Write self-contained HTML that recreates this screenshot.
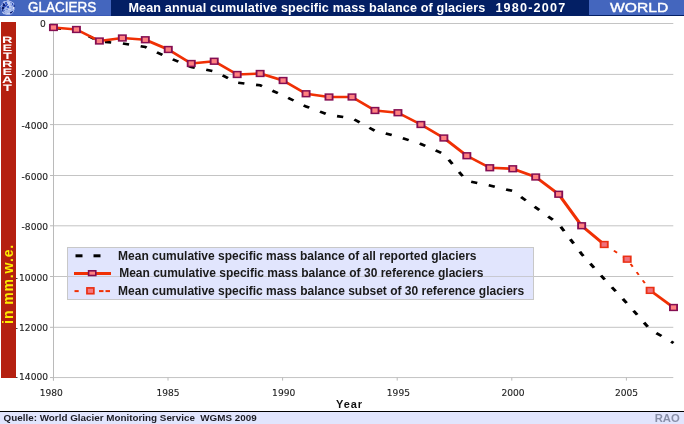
<!DOCTYPE html>
<html lang="en"><head><meta charset="utf-8"><title>Mean annual cumulative specific mass balance of glaciers 1980-2007</title>
<style>
html,body{margin:0;padding:0;background:#fff;}
body{width:684px;height:424px;position:relative;overflow:hidden;font-family:"Liberation Sans",Arial,sans-serif;}
#hdr{position:absolute;left:0;top:0;width:684px;height:15.6px;background:#031f64;}
#hl{position:absolute;left:0;top:0;width:110.8px;height:15.6px;background:linear-gradient(#4466be 0,#4466be 14.8px,#3a5ab6 14.8px);}
#hr{position:absolute;left:589.3px;top:0;width:95px;height:14.7px;background:#4466be;}
#hdr span{position:absolute;color:#fff;font-weight:bold;white-space:nowrap;line-height:15px;top:0.4px;transform-origin:0 50%;}
#t1{left:27.9px;font-size:14px;font-weight:normal !important;-webkit-text-stroke:0.42px #fff;transform:scaleX(0.962);}
#t2{left:128.4px;top:1.4px !important;font-size:12.6px;letter-spacing:0.15px;}
#t2b{left:495.4px;top:1.4px !important;font-size:12.6px;letter-spacing:1.2px;}
#t3{left:610.3px;top:1.3px !important;font-size:12.5px;font-weight:normal !important;-webkit-text-stroke:0.4px #fff;transform:scaleX(1.25);}
#bar{position:absolute;left:1px;top:22px;width:15px;height:355.8px;background:#b52010;}
#mm{position:absolute;left:0;top:0;color:#fdee00;font-weight:bold;font-size:14px;white-space:nowrap;letter-spacing:0.9px;transform-origin:0 0;transform:translate(1.2px,323.9px) rotate(-90deg);line-height:14px;}
#ftl{position:absolute;left:0;top:411px;width:684px;height:1px;background:#000;}
#ft{position:absolute;left:0;top:412px;width:684px;height:12px;background:#e1e5fd;}
#q{position:absolute;left:3.6px;top:411.9px;font-size:9.85px;font-weight:bold;color:#1c1c24;white-space:pre;line-height:12px;}
#rao{position:absolute;right:4.2px;top:412px;font-size:11.3px;font-weight:bold;color:#888fa8;line-height:12px;}
#chart{position:absolute;left:0;top:0;}
.ax{font-family:"DejaVu Sans","Liberation Sans",sans-serif;font-size:9.1px;fill:#1c1c1c;stroke:#1c1c1c;stroke-width:0.12px;}
.lg{font-family:"Liberation Sans",Arial,sans-serif;font-size:12px;font-weight:bold;fill:#1a1a1a;}
.yr{font-family:"Liberation Sans",Arial,sans-serif;font-size:11px;font-weight:bold;fill:#111;letter-spacing:0.9px;}
</style></head><body>
<svg id="chart" width="684" height="424" viewBox="0 0 684 424">
<line x1="53" x2="673.3" y1="23.50" y2="23.50" stroke="#c4c4c4" stroke-width="1"/>
<line x1="53" x2="673.3" y1="74.40" y2="74.40" stroke="#c4c4c4" stroke-width="1"/>
<line x1="53" x2="673.3" y1="124.60" y2="124.60" stroke="#c4c4c4" stroke-width="1"/>
<line x1="53" x2="673.3" y1="175.50" y2="175.50" stroke="#c4c4c4" stroke-width="1"/>
<line x1="53" x2="673.3" y1="225.80" y2="225.80" stroke="#c4c4c4" stroke-width="1"/>
<line x1="53" x2="673.3" y1="276.50" y2="276.50" stroke="#c4c4c4" stroke-width="1"/>
<line x1="53" x2="673.3" y1="327.30" y2="327.30" stroke="#c4c4c4" stroke-width="1"/>
<line x1="53" x2="673.3" y1="377.55" y2="377.55" stroke="#c4c4c4" stroke-width="1"/>
<line x1="53.5" x2="53.5" y1="23" y2="380.6" stroke="#bababa" stroke-width="1"/>
<line x1="53.40" x2="53.40" y1="377.55" y2="380.6" stroke="#bababa" stroke-width="1"/>
<line x1="168.00" x2="168.00" y1="377.55" y2="380.6" stroke="#bababa" stroke-width="1"/>
<line x1="282.60" x2="282.60" y1="377.55" y2="380.6" stroke="#bababa" stroke-width="1"/>
<line x1="397.20" x2="397.20" y1="377.55" y2="380.6" stroke="#bababa" stroke-width="1"/>
<line x1="511.80" x2="511.80" y1="377.55" y2="380.6" stroke="#bababa" stroke-width="1"/>
<line x1="626.40" x2="626.40" y1="377.55" y2="380.6" stroke="#bababa" stroke-width="1"/>
<line x1="50" x2="53.5" y1="23.50" y2="23.50" stroke="#bababa" stroke-width="1"/>
<line x1="50" x2="53.5" y1="74.40" y2="74.40" stroke="#bababa" stroke-width="1"/>
<line x1="50" x2="53.5" y1="124.60" y2="124.60" stroke="#bababa" stroke-width="1"/>
<line x1="50" x2="53.5" y1="175.50" y2="175.50" stroke="#bababa" stroke-width="1"/>
<line x1="50" x2="53.5" y1="225.80" y2="225.80" stroke="#bababa" stroke-width="1"/>
<line x1="50" x2="53.5" y1="276.50" y2="276.50" stroke="#bababa" stroke-width="1"/>
<line x1="50" x2="53.5" y1="327.30" y2="327.30" stroke="#bababa" stroke-width="1"/>
<line x1="50" x2="53.5" y1="377.55" y2="377.55" stroke="#bababa" stroke-width="1"/>
<text class="ax" x="45.8" y="26.9" text-anchor="end">0</text>
<text class="ax" x="48.0" y="77.1" text-anchor="end">-2000</text>
<text class="ax" x="48.0" y="129.0" text-anchor="end">-4000</text>
<text class="ax" x="48.0" y="180.0" text-anchor="end">-6000</text>
<text class="ax" x="48.0" y="230.2" text-anchor="end">-8000</text>
<text class="ax" x="17.7" y="280.6" text-anchor="end">-</text><text class="ax" x="48.0" y="280.6" text-anchor="end">10000</text>
<text class="ax" x="17.7" y="330.75" text-anchor="end">-</text><text class="ax" x="48.0" y="330.75" text-anchor="end">12000</text>
<text class="ax" x="17.7" y="379.8" text-anchor="end">-</text><text class="ax" x="48.0" y="379.8" text-anchor="end">14000</text>
<text class="ax" x="51.3" y="395.6" text-anchor="middle">1980</text>
<text class="ax" x="168" y="395.6" text-anchor="middle">1985</text>
<text class="ax" x="283.7" y="395.6" text-anchor="middle">1990</text>
<text class="ax" x="398.4" y="395.6" text-anchor="middle">1995</text>
<text class="ax" x="513" y="395.6" text-anchor="middle">2000</text>
<text class="ax" x="626.6" y="395.6" text-anchor="middle">2005</text>
<g transform="scale(1.23,1)">
<polyline points="43.46,27.90 62.13,30.00 80.80,41.40 99.47,43.50 118.14,47.00 136.81,57.50 155.48,67.00 174.15,71.30 192.82,82.70 211.49,85.30 230.16,95.50 248.83,106.50 267.50,115.00 286.17,118.20 304.85,130.80 323.52,136.70 342.19,144.00 360.86,154.00 379.53,181.00 398.20,185.50 416.87,191.00 435.54,207.50 454.21,224.00 472.88,254.00 491.23,279.00 509.90,303.50 528.57,329.50 547.57,343.00" fill="none" stroke="#000" stroke-width="2.6" stroke-dasharray="5.1 9.582" stroke-dashoffset="-1.18"/>
<polyline points="43.46,27.50 62.13,29.50 80.80,41.00 99.47,38.00 118.14,39.75 136.81,49.50 155.48,63.50 174.15,61.25 192.82,74.50 211.49,73.50 230.16,80.50 248.83,93.75 267.50,97.00 286.17,97.00 304.85,110.50 323.52,112.75 342.19,124.50 360.86,138.00 379.53,155.75 398.20,167.75 416.87,168.75 435.54,177.00 454.21,194.25 472.88,225.75 491.23,244.50" fill="none" stroke="#f03004" stroke-width="2.6" stroke-linejoin="round"/>
<polyline points="528.57,290.40 547.57,307.50" fill="none" stroke="#f03004" stroke-width="2.6"/>
<polyline points="491.23,244.50 509.90,259.20 528.57,290.40" fill="none" stroke="#f03004" stroke-width="1.7" stroke-dasharray="3.3 6.3" stroke-dashoffset="-0.4"/>
<rect x="40.56" y="24.60" width="5.8" height="5.8" fill="#ff8080" stroke="#840e52" stroke-width="1.5"/>
<rect x="59.23" y="26.60" width="5.8" height="5.8" fill="#ff8080" stroke="#840e52" stroke-width="1.5"/>
<rect x="77.90" y="38.10" width="5.8" height="5.8" fill="#ff8080" stroke="#840e52" stroke-width="1.5"/>
<rect x="96.57" y="35.10" width="5.8" height="5.8" fill="#ff8080" stroke="#840e52" stroke-width="1.5"/>
<rect x="115.24" y="36.85" width="5.8" height="5.8" fill="#ff8080" stroke="#840e52" stroke-width="1.5"/>
<rect x="133.91" y="46.60" width="5.8" height="5.8" fill="#ff8080" stroke="#840e52" stroke-width="1.5"/>
<rect x="152.58" y="60.60" width="5.8" height="5.8" fill="#ff8080" stroke="#840e52" stroke-width="1.5"/>
<rect x="171.25" y="58.35" width="5.8" height="5.8" fill="#ff8080" stroke="#840e52" stroke-width="1.5"/>
<rect x="189.92" y="71.60" width="5.8" height="5.8" fill="#ff8080" stroke="#840e52" stroke-width="1.5"/>
<rect x="208.59" y="70.60" width="5.8" height="5.8" fill="#ff8080" stroke="#840e52" stroke-width="1.5"/>
<rect x="227.26" y="77.60" width="5.8" height="5.8" fill="#ff8080" stroke="#840e52" stroke-width="1.5"/>
<rect x="245.93" y="90.85" width="5.8" height="5.8" fill="#ff8080" stroke="#840e52" stroke-width="1.5"/>
<rect x="264.60" y="94.10" width="5.8" height="5.8" fill="#ff8080" stroke="#840e52" stroke-width="1.5"/>
<rect x="283.27" y="94.10" width="5.8" height="5.8" fill="#ff8080" stroke="#840e52" stroke-width="1.5"/>
<rect x="301.95" y="107.60" width="5.8" height="5.8" fill="#ff8080" stroke="#840e52" stroke-width="1.5"/>
<rect x="320.62" y="109.85" width="5.8" height="5.8" fill="#ff8080" stroke="#840e52" stroke-width="1.5"/>
<rect x="339.29" y="121.60" width="5.8" height="5.8" fill="#ff8080" stroke="#840e52" stroke-width="1.5"/>
<rect x="357.96" y="135.10" width="5.8" height="5.8" fill="#ff8080" stroke="#840e52" stroke-width="1.5"/>
<rect x="376.63" y="152.85" width="5.8" height="5.8" fill="#ff8080" stroke="#840e52" stroke-width="1.5"/>
<rect x="395.30" y="164.85" width="5.8" height="5.8" fill="#ff8080" stroke="#840e52" stroke-width="1.5"/>
<rect x="413.97" y="165.85" width="5.8" height="5.8" fill="#ff8080" stroke="#840e52" stroke-width="1.5"/>
<rect x="432.64" y="174.10" width="5.8" height="5.8" fill="#ff8080" stroke="#840e52" stroke-width="1.5"/>
<rect x="451.31" y="191.35" width="5.8" height="5.8" fill="#ff8080" stroke="#840e52" stroke-width="1.5"/>
<rect x="469.98" y="222.85" width="5.8" height="5.8" fill="#ff8080" stroke="#840e52" stroke-width="1.5"/>
<rect x="488.33" y="241.60" width="5.8" height="5.8" fill="#f0707c" stroke="#ea3014" stroke-width="1.5"/>
<rect x="507.00" y="256.30" width="5.8" height="5.8" fill="#f0707c" stroke="#ea3014" stroke-width="1.5"/>
<rect x="525.67" y="287.50" width="5.8" height="5.8" fill="#f0707c" stroke="#ea3014" stroke-width="1.5"/>
<rect x="544.67" y="304.60" width="5.8" height="5.8" fill="#ff8080" stroke="#840e52" stroke-width="1.5"/>
</g>
<rect x="67.5" y="247.5" width="466" height="52" fill="#dfe3fd" fill-opacity="0.93" stroke="#c8c8c8" stroke-width="1"/>
<line x1="68" x2="533" y1="276.5" y2="276.5" stroke="#c4c4c8" stroke-width="1" opacity="0.8"/>
<line x1="75.5" x2="82.5" y1="255.8" y2="255.8" stroke="#000" stroke-width="3"/>
<line x1="93.5" x2="100.5" y1="255.8" y2="255.8" stroke="#000" stroke-width="3"/>
<line x1="74" x2="111" y1="273.4" y2="273.4" stroke="#f03004" stroke-width="3"/>
<rect x="88.6" y="270.8" width="7.2" height="4.7" fill="#ff8080" stroke="#800c50" stroke-width="1.6"/>
<rect x="86.95" y="287.9" width="6.9" height="5.8" fill="#f47880" stroke="#ea3014" stroke-width="1.7"/>
<line x1="74.5" x2="78.7" y1="291.1" y2="291.1" stroke="#f03004" stroke-width="2"/>
<line x1="99" x2="103.5" y1="291.1" y2="291.1" stroke="#f03004" stroke-width="2"/>
<line x1="105.5" x2="110" y1="291.1" y2="291.1" stroke="#f03004" stroke-width="2"/>
<text class="lg" x="118.1" y="260" textLength="358.4" lengthAdjust="spacing">Mean cumulative specific mass balance of all reported glaciers</text>
<text class="lg" x="119.2" y="276.8">Mean cumulative specific mass balance of 30 reference glaciers</text>
<text class="lg" x="118.1" y="295" textLength="406.1" lengthAdjust="spacing">Mean cumulative specific mass balance subset of 30 reference glaciers</text>
<text class="yr" x="336.1" y="408.1">Year</text>
</svg>
<div id="hdr"><div id="hl"></div><div id="hr"></div>
<svg width="18" height="18" viewBox="0 0 18 18" style="position:absolute;left:0;top:0;overflow:visible"><defs><filter id="gb" x="-10%" y="-10%" width="120%" height="120%"><feGaussianBlur stdDeviation="0.45"/></filter></defs><g filter="url(#gb)"><rect x="6" y="0" width="1.05" height="1.05" fill="#5c7acc"/><rect x="7" y="0" width="1.05" height="1.05" fill="#9cb0e6"/><rect x="8" y="0" width="1.05" height="1.05" fill="#9cb0e6"/><rect x="9" y="0" width="1.05" height="1.05" fill="#5c7acc"/><rect x="3" y="1" width="1.05" height="1.05" fill="#7e94da"/><rect x="4" y="1" width="1.05" height="1.05" fill="#a6b8ea"/><rect x="5" y="1" width="1.05" height="1.05" fill="#a6b8ea"/><rect x="6" y="1" width="1.05" height="1.05" fill="#9cb0e6"/><rect x="7" y="1" width="1.05" height="1.05" fill="#a6b8ea"/><rect x="8" y="1" width="1.05" height="1.05" fill="#a6b8ea"/><rect x="9" y="1" width="1.05" height="1.05" fill="#a6b8ea"/><rect x="10" y="1" width="1.05" height="1.05" fill="#a6b8ea"/><rect x="11" y="1" width="1.05" height="1.05" fill="#7e94da"/><rect x="2" y="2" width="1.05" height="1.05" fill="#6078c8"/><rect x="3" y="2" width="1.05" height="1.05" fill="#a6b8ea"/><rect x="4" y="2" width="1.05" height="1.05" fill="#a6b8ea"/><rect x="5" y="2" width="1.05" height="1.05" fill="#3f5fc6"/><rect x="6" y="2" width="1.05" height="1.05" fill="#3f5fc6"/><rect x="7" y="2" width="1.05" height="1.05" fill="#c4d0f2"/><rect x="8" y="2" width="1.05" height="1.05" fill="#c4d0f2"/><rect x="9" y="2" width="1.05" height="1.05" fill="#c4d0f2"/><rect x="10" y="2" width="1.05" height="1.05" fill="#7e94da"/><rect x="11" y="2" width="1.05" height="1.05" fill="#7e94da"/><rect x="12" y="2" width="1.05" height="1.05" fill="#a6b8ea"/><rect x="13" y="2" width="1.05" height="1.05" fill="#5c7acc"/><rect x="1" y="3" width="1.05" height="1.05" fill="#6078c8"/><rect x="2" y="3" width="1.05" height="1.05" fill="#6078c8"/><rect x="3" y="3" width="1.05" height="1.05" fill="#283c94"/><rect x="4" y="3" width="1.05" height="1.05" fill="#7e94da"/><rect x="5" y="3" width="1.05" height="1.05" fill="#3f5fc6"/><rect x="6" y="3" width="1.05" height="1.05" fill="#3f5fc6"/><rect x="7" y="3" width="1.05" height="1.05" fill="#a6b8ea"/><rect x="8" y="3" width="1.05" height="1.05" fill="#c4d0f2"/><rect x="9" y="3" width="1.05" height="1.05" fill="#c4d0f2"/><rect x="10" y="3" width="1.05" height="1.05" fill="#9cb0e6"/><rect x="11" y="3" width="1.05" height="1.05" fill="#9cb0e6"/><rect x="12" y="3" width="1.05" height="1.05" fill="#3050bc"/><rect x="13" y="3" width="1.05" height="1.05" fill="#a6b8ea"/><rect x="1" y="4" width="1.05" height="1.05" fill="#5c7acc"/><rect x="2" y="4" width="1.05" height="1.05" fill="#7e94da"/><rect x="3" y="4" width="1.05" height="1.05" fill="#182878"/><rect x="4" y="4" width="1.05" height="1.05" fill="#182878"/><rect x="5" y="4" width="1.05" height="1.05" fill="#7e94da"/><rect x="6" y="4" width="1.05" height="1.05" fill="#3f5fc6"/><rect x="7" y="4" width="1.05" height="1.05" fill="#3f5fc6"/><rect x="8" y="4" width="1.05" height="1.05" fill="#c4d0f2"/><rect x="9" y="4" width="1.05" height="1.05" fill="#c4d0f2"/><rect x="10" y="4" width="1.05" height="1.05" fill="#a6b8ea"/><rect x="11" y="4" width="1.05" height="1.05" fill="#a6b8ea"/><rect x="12" y="4" width="1.05" height="1.05" fill="#3050bc"/><rect x="13" y="4" width="1.05" height="1.05" fill="#7e94da"/><rect x="1" y="5" width="1.05" height="1.05" fill="#a6b8ea"/><rect x="2" y="5" width="1.05" height="1.05" fill="#6078c8"/><rect x="3" y="5" width="1.05" height="1.05" fill="#0c1a62"/><rect x="4" y="5" width="1.05" height="1.05" fill="#0c1a62"/><rect x="5" y="5" width="1.05" height="1.05" fill="#3050bc"/><rect x="6" y="5" width="1.05" height="1.05" fill="#3050bc"/><rect x="7" y="5" width="1.05" height="1.05" fill="#a6b8ea"/><rect x="8" y="5" width="1.05" height="1.05" fill="#a6b8ea"/><rect x="9" y="5" width="1.05" height="1.05" fill="#a6b8ea"/><rect x="10" y="5" width="1.05" height="1.05" fill="#a6b8ea"/><rect x="11" y="5" width="1.05" height="1.05" fill="#7e94da"/><rect x="12" y="5" width="1.05" height="1.05" fill="#7e94da"/><rect x="13" y="5" width="1.05" height="1.05" fill="#5c7acc"/><rect x="14" y="5" width="1.05" height="1.05" fill="#283c94"/><rect x="0" y="6" width="1.05" height="1.05" fill="#7e94da"/><rect x="1" y="6" width="1.05" height="1.05" fill="#7e94da"/><rect x="2" y="6" width="1.05" height="1.05" fill="#5c7acc"/><rect x="3" y="6" width="1.05" height="1.05" fill="#3050bc"/><rect x="4" y="6" width="1.05" height="1.05" fill="#3050bc"/><rect x="5" y="6" width="1.05" height="1.05" fill="#3050bc"/><rect x="6" y="6" width="1.05" height="1.05" fill="#7e94da"/><rect x="7" y="6" width="1.05" height="1.05" fill="#3f5fc6"/><rect x="8" y="6" width="1.05" height="1.05" fill="#3f5fc6"/><rect x="9" y="6" width="1.05" height="1.05" fill="#c4d0f2"/><rect x="10" y="6" width="1.05" height="1.05" fill="#c4d0f2"/><rect x="11" y="6" width="1.05" height="1.05" fill="#a6b8ea"/><rect x="12" y="6" width="1.05" height="1.05" fill="#a6b8ea"/><rect x="13" y="6" width="1.05" height="1.05" fill="#6078c8"/><rect x="14" y="6" width="1.05" height="1.05" fill="#283c94"/><rect x="1" y="7" width="1.05" height="1.05" fill="#7e94da"/><rect x="2" y="7" width="1.05" height="1.05" fill="#0c1a62"/><rect x="3" y="7" width="1.05" height="1.05" fill="#0c1a62"/><rect x="4" y="7" width="1.05" height="1.05" fill="#3f5fc6"/><rect x="5" y="7" width="1.05" height="1.05" fill="#9cb0e6"/><rect x="6" y="7" width="1.05" height="1.05" fill="#9cb0e6"/><rect x="7" y="7" width="1.05" height="1.05" fill="#3f5fc6"/><rect x="8" y="7" width="1.05" height="1.05" fill="#3f5fc6"/><rect x="9" y="7" width="1.05" height="1.05" fill="#a6b8ea"/><rect x="10" y="7" width="1.05" height="1.05" fill="#a6b8ea"/><rect x="11" y="7" width="1.05" height="1.05" fill="#a6b8ea"/><rect x="12" y="7" width="1.05" height="1.05" fill="#9cb0e6"/><rect x="13" y="7" width="1.05" height="1.05" fill="#dde3f8"/><rect x="14" y="7" width="1.05" height="1.05" fill="#7e94da"/><rect x="1" y="8" width="1.05" height="1.05" fill="#6078c8"/><rect x="2" y="8" width="1.05" height="1.05" fill="#0c1a62"/><rect x="3" y="8" width="1.05" height="1.05" fill="#0c1a62"/><rect x="4" y="8" width="1.05" height="1.05" fill="#7e94da"/><rect x="5" y="8" width="1.05" height="1.05" fill="#a6b8ea"/><rect x="6" y="8" width="1.05" height="1.05" fill="#a6b8ea"/><rect x="7" y="8" width="1.05" height="1.05" fill="#a6b8ea"/><rect x="8" y="8" width="1.05" height="1.05" fill="#a6b8ea"/><rect x="9" y="8" width="1.05" height="1.05" fill="#a6b8ea"/><rect x="10" y="8" width="1.05" height="1.05" fill="#a6b8ea"/><rect x="11" y="8" width="1.05" height="1.05" fill="#a6b8ea"/><rect x="12" y="8" width="1.05" height="1.05" fill="#a6b8ea"/><rect x="13" y="8" width="1.05" height="1.05" fill="#dde3f8"/><rect x="14" y="8" width="1.05" height="1.05" fill="#7e94da"/><rect x="1" y="9" width="1.05" height="1.05" fill="#7e94da"/><rect x="2" y="9" width="1.05" height="1.05" fill="#283c94"/><rect x="3" y="9" width="1.05" height="1.05" fill="#6078c8"/><rect x="4" y="9" width="1.05" height="1.05" fill="#9cb0e6"/><rect x="5" y="9" width="1.05" height="1.05" fill="#9cb0e6"/><rect x="6" y="9" width="1.05" height="1.05" fill="#7e94da"/><rect x="7" y="9" width="1.05" height="1.05" fill="#7e94da"/><rect x="8" y="9" width="1.05" height="1.05" fill="#c4d0f2"/><rect x="9" y="9" width="1.05" height="1.05" fill="#c4d0f2"/><rect x="10" y="9" width="1.05" height="1.05" fill="#c4d0f2"/><rect x="11" y="9" width="1.05" height="1.05" fill="#9cb0e6"/><rect x="12" y="9" width="1.05" height="1.05" fill="#9cb0e6"/><rect x="13" y="9" width="1.05" height="1.05" fill="#a6b8ea"/><rect x="14" y="9" width="1.05" height="1.05" fill="#7e94da"/><rect x="1" y="10" width="1.05" height="1.05" fill="#5c7acc"/><rect x="2" y="10" width="1.05" height="1.05" fill="#283c94"/><rect x="3" y="10" width="1.05" height="1.05" fill="#5c7acc"/><rect x="4" y="10" width="1.05" height="1.05" fill="#5c7acc"/><rect x="5" y="10" width="1.05" height="1.05" fill="#a6b8ea"/><rect x="6" y="10" width="1.05" height="1.05" fill="#a6b8ea"/><rect x="7" y="10" width="1.05" height="1.05" fill="#a6b8ea"/><rect x="8" y="10" width="1.05" height="1.05" fill="#a6b8ea"/><rect x="9" y="10" width="1.05" height="1.05" fill="#a6b8ea"/><rect x="10" y="10" width="1.05" height="1.05" fill="#a6b8ea"/><rect x="11" y="10" width="1.05" height="1.05" fill="#a6b8ea"/><rect x="12" y="10" width="1.05" height="1.05" fill="#9cb0e6"/><rect x="13" y="10" width="1.05" height="1.05" fill="#9cb0e6"/><rect x="2" y="11" width="1.05" height="1.05" fill="#6078c8"/><rect x="3" y="11" width="1.05" height="1.05" fill="#5c7acc"/><rect x="4" y="11" width="1.05" height="1.05" fill="#9cb0e6"/><rect x="5" y="11" width="1.05" height="1.05" fill="#9cb0e6"/><rect x="6" y="11" width="1.05" height="1.05" fill="#9cb0e6"/><rect x="7" y="11" width="1.05" height="1.05" fill="#a6b8ea"/><rect x="8" y="11" width="1.05" height="1.05" fill="#a6b8ea"/><rect x="9" y="11" width="1.05" height="1.05" fill="#a6b8ea"/><rect x="10" y="11" width="1.05" height="1.05" fill="#9cb0e6"/><rect x="11" y="11" width="1.05" height="1.05" fill="#5c7acc"/><rect x="12" y="11" width="1.05" height="1.05" fill="#283c94"/><rect x="13" y="11" width="1.05" height="1.05" fill="#9cb0e6"/><rect x="2" y="12" width="1.05" height="1.05" fill="#a6b8ea"/><rect x="3" y="12" width="1.05" height="1.05" fill="#a6b8ea"/><rect x="4" y="12" width="1.05" height="1.05" fill="#7e94da"/><rect x="5" y="12" width="1.05" height="1.05" fill="#a6b8ea"/><rect x="6" y="12" width="1.05" height="1.05" fill="#a6b8ea"/><rect x="7" y="12" width="1.05" height="1.05" fill="#a6b8ea"/><rect x="8" y="12" width="1.05" height="1.05" fill="#a6b8ea"/><rect x="9" y="12" width="1.05" height="1.05" fill="#a6b8ea"/><rect x="10" y="12" width="1.05" height="1.05" fill="#182878"/><rect x="11" y="12" width="1.05" height="1.05" fill="#0c1a62"/><rect x="12" y="12" width="1.05" height="1.05" fill="#7e94da"/><rect x="3" y="13" width="1.05" height="1.05" fill="#a6b8ea"/><rect x="4" y="13" width="1.05" height="1.05" fill="#a6b8ea"/><rect x="5" y="13" width="1.05" height="1.05" fill="#a6b8ea"/><rect x="6" y="13" width="1.05" height="1.05" fill="#a6b8ea"/><rect x="7" y="13" width="1.05" height="1.05" fill="#c4d0f2"/><rect x="8" y="13" width="1.05" height="1.05" fill="#c4d0f2"/><rect x="9" y="13" width="1.05" height="1.05" fill="#c4d0f2"/><rect x="10" y="13" width="1.05" height="1.05" fill="#6078c8"/><rect x="11" y="13" width="1.05" height="1.05" fill="#7e94da"/><rect x="12" y="13" width="1.05" height="1.05" fill="#5c7acc"/><rect x="4" y="14" width="1.05" height="1.05" fill="#5c7acc"/><rect x="5" y="14" width="1.05" height="1.05" fill="#7e94da"/><rect x="6" y="14" width="1.05" height="1.05" fill="#9cb0e6"/><rect x="7" y="14" width="1.05" height="1.05" fill="#9cb0e6"/><rect x="8" y="14" width="1.05" height="1.05" fill="#9cb0e6"/><rect x="9" y="14" width="1.05" height="1.05" fill="#9cb0e6"/><rect x="10" y="14" width="1.05" height="1.05" fill="#7e94da"/><rect x="11" y="14" width="1.05" height="1.05" fill="#5c7acc"/></g></svg>
<span id="t1">GLACIERS</span><span id="t2">Mean annual cumulative specific mass balance of glaciers</span><span id="t2b">1980-2007</span><span id="t3">WORLD</span></div>
<div id="bar"></div>
<svg id="ret" width="20" height="100" viewBox="0 0 20 100" style="position:absolute;left:0;top:0;overflow:visible"><text transform="translate(7.35,0) scale(1.56,1)" text-anchor="middle" font-size="9.3" text-rendering="geometricPrecision" font-weight="bold" fill="#fff" x="0 0 0 0 0 0 0" y="43.10 51.07 59.04 67.01 74.98 82.95 90.92">RETREAT</text></svg>
<div id="mm">in mm.w.e.</div>
<div id="ftl"></div><div id="ft"></div>
<div id="q">Quelle: World Glacier Monitoring Service  WGMS 2009</div>
<div id="rao">RAO</div>
</body></html>
